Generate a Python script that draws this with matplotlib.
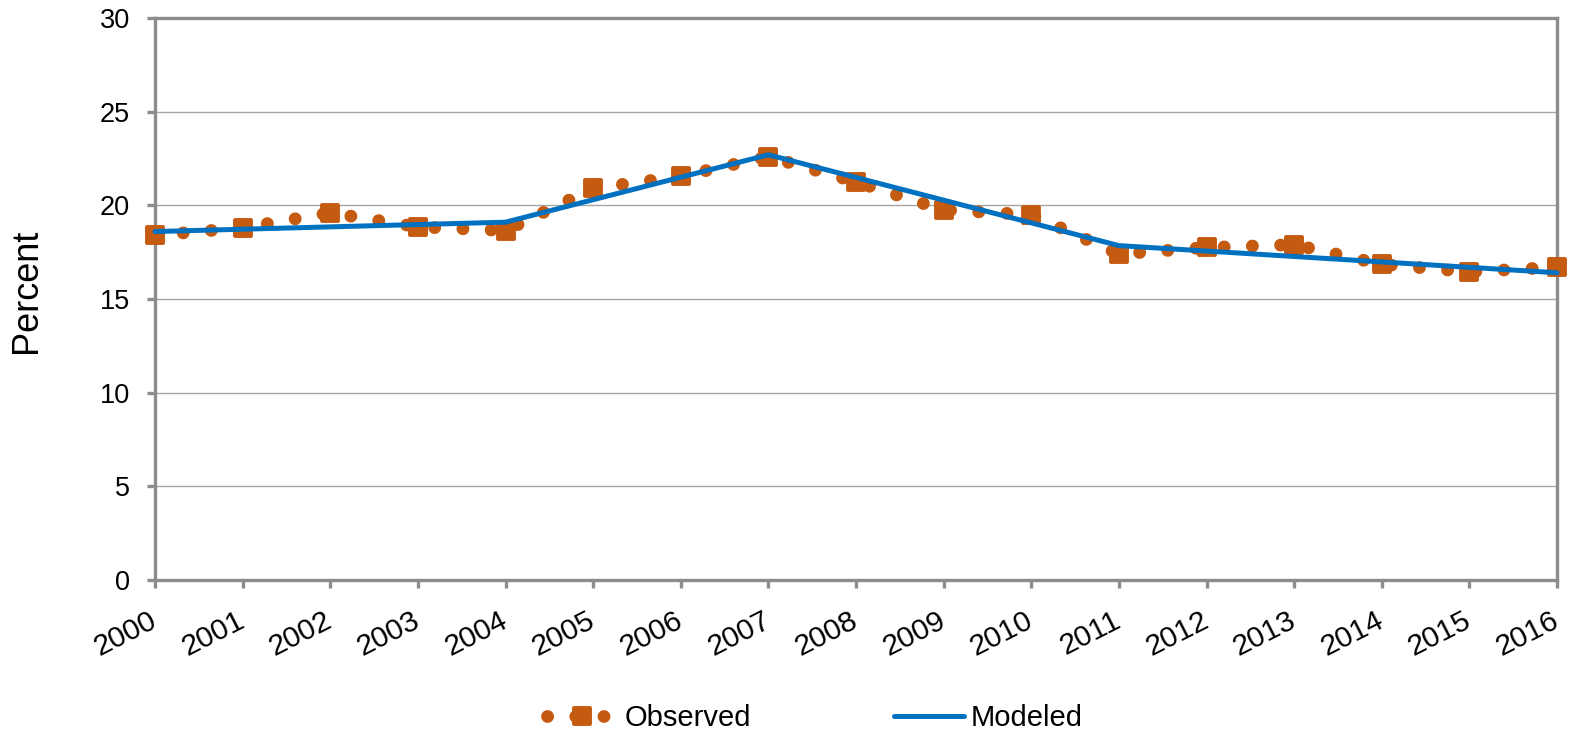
import matplotlib.pyplot as plt
from matplotlib.markers import MarkerStyle

plt.rcParams['font.family'] = ['Liberation Sans', 'DejaVu Sans']

# Annual observed rates
years = list(range(2000, 2017))
observed = [18.4, 18.8, 19.6, 18.85, 18.65, 20.9, 21.55, 22.6, 21.25, 19.75,
            19.5, 17.4, 17.75, 17.9, 16.85, 16.45, 16.7]

# Modeled trend (joinpoint years)
model_years = [2000, 2004, 2007, 2011, 2016]
modeled = [18.6, 19.1, 22.7, 17.85, 16.4]

year_labels = [str(y) for y in years]
y_ticks = [0, 5, 10, 15, 20, 25, 30]

ORANGE = '#C55A11'
BLUE = '#0070C0'
GRAY = '#8C8C8C'

fig = plt.figure(figsize=(15.72, 7.37), dpi=100)
ax = fig.add_axes([0.0986, 0.2130, 0.8919, 0.7626])

square = MarkerStyle('s', joinstyle='round')
ax.plot(years, observed, color=ORANGE, linewidth=9.2,
        linestyle=(0, (0.01, 2.2)), dash_capstyle='round',
        marker=square, markersize=11.5, markeredgewidth=2.8,
        markerfacecolor=ORANGE, markeredgecolor=ORANGE,
        label='Observed', clip_on=False, zorder=3)
ax.plot(model_years, modeled, color=BLUE, linewidth=3.6,
        solid_capstyle='round', label='Modeled', clip_on=False, zorder=4)

ax.set_xlim(2000, 2016)
ax.set_ylim(0, 30)
ax.set_xticks(years)
ax.set_xticklabels(year_labels, rotation=27, ha='right', va='center',
                   rotation_mode='anchor', fontsize=21.5)
ax.set_yticks(y_ticks)
ax.set_yticklabels([str(t) for t in y_ticks], fontsize=19.5)

ax.grid(axis='y', color='#A6A6A6', linewidth=1.0)
ax.set_axisbelow(True)
for side in ['left', 'right', 'top', 'bottom']:
    ax.spines[side].set_color(GRAY)
    ax.spines[side].set_linewidth(2.4)
ax.tick_params(axis='both', color=GRAY, width=2.4, length=6, direction='out')
ax.tick_params(axis='x', pad=22)
ax.tick_params(axis='y', pad=12)

ax.set_ylabel('Percent', fontsize=26)
ax.yaxis.set_label_coords(-0.079, 0.515)

fig.legend(loc='center', bbox_to_anchor=(815 / 1572, 1 - 718 / 737),
           ncol=2, frameon=False, fontsize=21, handlelength=2.4,
           handletextpad=0.25, columnspacing=4.9, numpoints=1)

fig.savefig('out.png', dpi=100)
